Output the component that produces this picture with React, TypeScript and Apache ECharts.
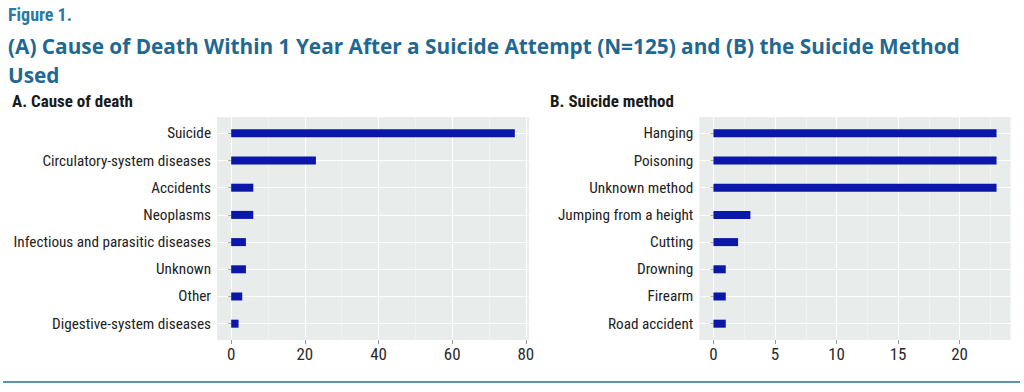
import React, { useEffect, useRef } from "react";
import * as echarts from "echarts";

const causeCategories = [
  "Suicide",
  "Circulatory-system diseases",
  "Accidents",
  "Neoplasms",
  "Infectious and parasitic diseases",
  "Unknown",
  "Other",
  "Digestive-system diseases",
];
const causeValues = [77, 23, 6, 6, 4, 4, 3, 2];

const methodCategories = [
  "Hanging",
  "Poisoning",
  "Unknown method",
  "Jumping from a height",
  "Cutting",
  "Drowning",
  "Firearm",
  "Road accident",
];
const methodValues = [23, 23, 23, 3, 2, 1, 1, 1];

const causeTicks = [0, 20, 40, 60, 80];
const causeMinor = [10, 30, 50, 70];
const methodTicks = [0, 5, 10, 15, 20];
const methodMinor = [2.5, 7.5, 12.5, 17.5, 22.5];

const NARROW = "'Liberation Sans Narrow', 'Roboto Condensed', 'DejaVu Sans Condensed', sans-serif";
const BAR = "#0b17a8";
const BG = "#e8ecea";

function panel(
  gi: number,
  left: number,
  width: number,
  min: number,
  max: number,
  ticks: number[],
  minor: number[],
  cats: string[],
  vals: number[]
) {
  const top = 117;
  const height = 223;
  const unit = height / 8.2;
  const grids = [
    { left, top, width, height, show: true, backgroundColor: BG, borderWidth: 0 },
    { left, top: top + 0.1 * unit, width, height: 8 * unit, show: false },
  ];
  const xAxes = [
    {
      gridIndex: gi,
      type: "value",
      min,
      max,
      axisLine: { show: false },
      axisTick: { show: true, customValues: ticks, length: 4, lineStyle: { color: "#999", width: 1 } },
      axisLabel: { customValues: ticks, color: "#2a2a2a", fontSize: 17, fontFamily: NARROW, margin: 5 },
      splitLine: { show: true, lineStyle: { color: "#ffffff", width: 1.2 } },
    },
    {
      gridIndex: gi,
      type: "value",
      min,
      max,
      axisLine: { show: false },
      axisTick: { show: false, customValues: minor },
      axisLabel: { show: false },
      splitLine: { show: true, lineStyle: { color: "#f6f8f7", width: 0.6 } },
    },
    {
      gridIndex: gi + 1,
      type: "value",
      min,
      max,
      show: false,
    },
  ];
  const yAxes = [
    {
      gridIndex: gi,
      type: "value",
      min: 0.4,
      max: 8.6,
      inverse: true,
      axisLine: { show: false },
      axisTick: { show: true, customValues: [1, 2, 3, 4, 5, 6, 7, 8], length: 3, lineStyle: { color: "#aaa" } },
      axisLabel: { show: false },
      splitLine: { show: true, lineStyle: { color: "#ffffff", width: 1.2 } },
    },
    {
      gridIndex: gi + 1,
      type: "category",
      data: cats,
      inverse: true,
      axisLine: { show: false },
      axisTick: { show: false },
      axisLabel: { color: "#222", fontSize: 15.2, fontFamily: NARROW, margin: 6 },
      splitLine: { show: false },
    },
  ];
  return { grids, xAxes, yAxes, vals };
}

export default function App() {
  const ref = useRef<HTMLDivElement>(null);
  useEffect(() => {
    if (!ref.current) return;
    const chart = echarts.init(ref.current, null, { renderer: "svg" });
    const a = panel(0, 217, 312, -3.85, 80.85, causeTicks, causeMinor, causeCategories, causeValues);
    const b = panel(2, 699.3, 311.4, -1.15, 24.15, methodTicks, methodMinor, methodCategories, methodValues);
    const TITLE = "#1f6891";
    chart.setOption({
      animation: false,
      grid: [...a.grids, ...b.grids],
      xAxis: [...a.xAxes, ...b.xAxes],
      yAxis: [...a.yAxes, ...b.yAxes],
      series: [
        {
          type: "bar",
          xAxisIndex: 2,
          yAxisIndex: 1,
          data: causeValues,
          barWidth: 8,
          itemStyle: { color: BAR },
        },
        {
          type: "bar",
          xAxisIndex: 5,
          yAxisIndex: 3,
          data: methodValues,
          barWidth: 8,
          itemStyle: { color: BAR },
        },
      ],
      graphic: [
        {
          type: "text",
          left: 8,
          top: 5,
          style: { text: "Figure 1.", font: `bold 18px ${NARROW}`, fill: "#2a78a3" },
        },
        {
          type: "text",
          left: 8,
          top: 32,
          style: {
            text: "(A) Cause of Death Within 1 Year After a Suicide Attempt (N=125) and (B) the Suicide Method\nUsed",
            font: "bold 20.8px 'Open Sans', Lato, sans-serif",
            lineHeight: 28.5,
            fill: TITLE,
          },
        },
        {
          type: "text",
          left: 12,
          top: 92,
          style: { text: "A. Cause of death", font: `bold 17px ${NARROW}`, fill: "#1a1a1a" },
        },
        {
          type: "text",
          left: 550,
          top: 92,
          style: { text: "B. Suicide method", font: `bold 17px ${NARROW}`, fill: "#1a1a1a" },
        },
        {
          type: "rect",
          shape: { x: 3, y: 381, width: 1017, height: 2 },
          style: { fill: "#5f93ab" },
        },
      ],
    });
    return () => chart.dispose();
  }, []);
  return (
    <div
      ref={ref}
      style={{ position: "fixed", left: 0, top: 0, width: 1024, height: 392, background: "#fff" }}
    />
  );
}
